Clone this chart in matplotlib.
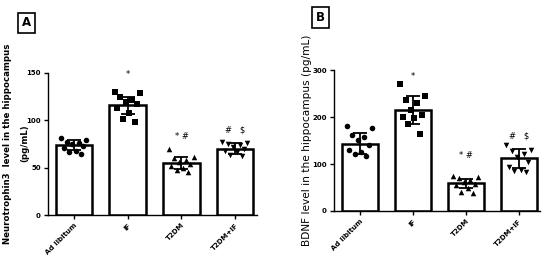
import matplotlib
matplotlib.use("Agg")
import matplotlib.pyplot as plt
import numpy as np

plt.rcParams['font.family'] = ['DejaVu Sans']

groups = ['Ad libitum', 'IF', 'T2DM', 'T2DM+IF']

# panel A: Neurotrophin3 (pg/mL)
nt3_mean = [74, 116, 55, 70]
nt3_sd = [5, 9, 6, 6]
nt3_points = [
    [81, 79, 77, 76, 75, 73, 71, 68, 66, 64],
    [130, 129, 125, 121, 119, 117, 113, 108, 101, 98],
    [70, 61, 60, 58, 56, 54, 52, 50, 48, 45],
    [77, 76, 75, 74, 72, 70, 68, 66, 63, 62],
]
nt3_notes = ['', '*', '* #', '#   $']
nt3_note_y = [0, 143, 78, 85]

# panel B: BDNF (pg/mL)
bdnf_mean = [143, 215, 59, 112]
bdnf_sd = [22, 30, 10, 20]
bdnf_points = [
    [181, 176, 162, 158, 151, 140, 130, 126, 121, 117],
    [270, 245, 236, 230, 216, 204, 200, 197, 185, 164],
    [75, 73, 70, 66, 61, 57, 55, 48, 41, 38],
    [140, 130, 127, 122, 115, 105, 94, 88, 86, 84],
]
bdnf_notes = ['', '*', '* #', '#   $']
bdnf_note_y = [0, 276, 108, 150]

markers = ['o', 's', '^', 'v']
jitter = [-0.3, 0.28, -0.17, 0.11, -0.05, 0.21, -0.24, 0.04, -0.11, 0.16]


def draw_panel(ax, means, sds, points, ylim, yticks, notes, note_y):
    x = np.arange(len(groups))
    ax.bar(x, means, width=0.68, color='white', edgecolor='black', linewidth=1.8, zorder=1)
    for i in range(len(groups)):
        ax.scatter(x[i] + np.array(jitter) * 0.8, points[i], marker=markers[i], s=16,
                   color='black', zorder=3, linewidths=0)
        ax.errorbar(x[i], means[i], yerr=sds[i], color='black', capsize=5, capthick=1.3,
                    elinewidth=1.3, zorder=4)
        if notes[i]:
            ax.text(x[i], note_y[i], notes[i], ha='center', va='bottom', fontsize=6)
    ax.set_ylim(*ylim)
    ax.set_xlim(-0.49, 3.4)
    ax.set_yticks(yticks)
    ax.set_yticklabels([str(t) for t in yticks], fontsize=5, fontweight='bold')
    ax.set_xticks(x)
    ax.set_xticklabels(groups, rotation=45, ha='right', rotation_mode='anchor',
                       fontsize=5, fontweight='bold')
    ax.spines['top'].set_visible(False)
    ax.spines['right'].set_visible(False)
    ax.spines['left'].set_linewidth(1.0)
    ax.spines['bottom'].set_linewidth(1.0)
    ax.tick_params(length=3, width=1.0, pad=2)


fig = plt.figure(figsize=(5.5, 2.61), dpi=100)
ax_a = fig.add_axes([0.0867, 0.176, 0.38, 0.545])
ax_b = fig.add_axes([0.6067, 0.1916, 0.3753, 0.540])

draw_panel(ax_a, nt3_mean, nt3_sd, nt3_points, (0, 150), [0, 50, 100, 150],
           nt3_notes, nt3_note_y)
draw_panel(ax_b, bdnf_mean, bdnf_sd, bdnf_points, (0, 300), [0, 100, 200, 300],
           bdnf_notes, bdnf_note_y)

# y labels
fig.text(8 / 550, 0.45, 'Neurotrophin3  level in the hippocampus', rotation=90,
         ha='center', va='center', fontsize=6.2, fontweight='bold')
fig.text(25 / 550, 0.45, '(pg/mL)', rotation=90,
         ha='center', va='center', fontsize=6.2, fontweight='bold')
fig.text(307 / 550, 0.462, 'BDNF level in the hippocampus (pg/mL)', rotation=90,
         ha='center', va='center', fontsize=7.6)

# panel letters
box = dict(boxstyle='square,pad=0.3', facecolor='white', edgecolor='black', linewidth=1.2)
fig.text(26.5 / 550, 1 - 23 / 261, 'A', ha='center', va='center', fontsize=8.5,
         fontweight='bold', bbox=box)
fig.text(320.5 / 550, 1 - 17.5 / 261, 'B', ha='center', va='center', fontsize=8.5,
         fontweight='bold', bbox=box)

fig.savefig('out.png', dpi=100)
